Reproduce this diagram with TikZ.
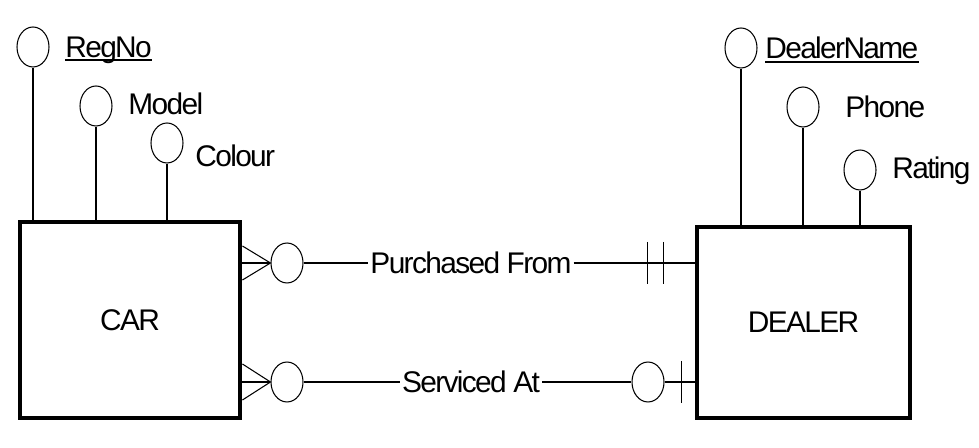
\documentclass[tikz,border=0pt]{standalone}
\usepackage{fontspec}
\setmainfont{Liberation Sans}[LetterSpace=-5.5]
\usepackage{tikz}
\usetikzlibrary{shapes.geometric}
\usetikzlibrary{calc}
\tikzset{>=latex}

\begin{document}
\begin{tikzpicture}[x=0.02cm, y=-0.02cm, font=\fontsize{17}{20}\selectfont]
                % attr = attribute oval, lbl = its name, rel = relationship label
                \tikzstyle{entity}=[rectangle, draw=black, line width=2.8pt, inner sep=0pt]
                \tikzstyle{attr}=[ellipse, draw=black, line width=0.6pt, minimum width=0.64cm, minimum height=0.8cm, inner sep=0pt]
                \tikzstyle{lbl}=[inner sep=0pt, anchor=base west]
                \tikzstyle{rel}=[inner sep=1pt]
                \tikzstyle{conn}=[black, line width=0.6pt]
                \useasboundingbox (0,0) rectangle (979,448);
                \node[entity, minimum width=4.4cm, minimum height=3.92cm] (car) at (130,320) {CAR};
                \node[entity, minimum width=4.26cm, minimum height=3.82cm] (dealer) at (803.5,322.5) {DEALER};
                % car attributes
                \node[attr] (regno) at (33,47) {};
                \node[lbl] (regnoT) at (65,58) {RegNo};
                \draw[conn] ($(regnoT.base west)+(0,2)$) -- ($(regnoT.base east)+(0,2)$);
                \node[attr] (model) at (96,106) {};
                \node[lbl] (modelT) at (128,115) {Model};
                \node[attr] (colour) at (167,143) {};
                \node[lbl] (colourT) at (195,167) {Colour};
                \foreach \a in {regno,model,colour}
                    \draw[conn] (\a.south) -- (\a.south |- car.north);
                % dealer attributes
                \node[attr] (dname) at (741,48) {};
                \node[lbl] (dnameT) at (765,59) {DealerName};
                \draw[conn] ($(dnameT.base west)+(0,3)$) -- ($(dnameT.base east)+(0,3)$);
                \node[attr] (phone) at (803,107) {};
                \node[lbl] (phoneT) at (845,118) {Phone};
                \node[attr] (rating) at (860,170) {};
                \node[lbl] (ratingT) at (892,179) {Rating};
                \foreach \a in {dname,phone,rating}
                    \draw[conn] (\a.south) -- (\a.south |- dealer.north);
                % purchased from: many, optional -- one and only one
                \node[attr] (pfO) at (287,263) {};
                \node[rel] (pf) at (471,263) {Purchased From};
                \foreach \dy in {-17,0,17}
                    \draw[conn] (pfO.west) -- ($(car.east |- pfO.west)+(0,\dy)$);
                \draw[conn] (pfO.east) -- (pf.west);
                \draw[conn] (pf.east) -- (pf.east -| dealer.west);
                \foreach \dx in {-47,-31}
                    \draw[conn] ($(pf.east -| dealer.west)+(\dx,-21)$) -- ++(0,42);
                % serviced at: many, optional -- zero or one
                \node[attr] (saO) at (287,382) {};
                \node[rel] (sa) at (471,382) {Serviced At};
                \node[attr] (saD) at (648,382) {};
                \foreach \dy in {-18,0,18}
                    \draw[conn] (saO.west) -- ($(car.east |- saO.west)+(0,\dy)$);
                \draw[conn] (saO.east) -- (sa.west);
                \draw[conn] (sa.east) -- (saD.west);
                \draw[conn] (saD.east) -- (saD.east -| dealer.west);
                \draw[conn] ($(saD.east -| dealer.west)+(-13,-21)$) -- ++(0,42);
\end{tikzpicture}
\end{document}
